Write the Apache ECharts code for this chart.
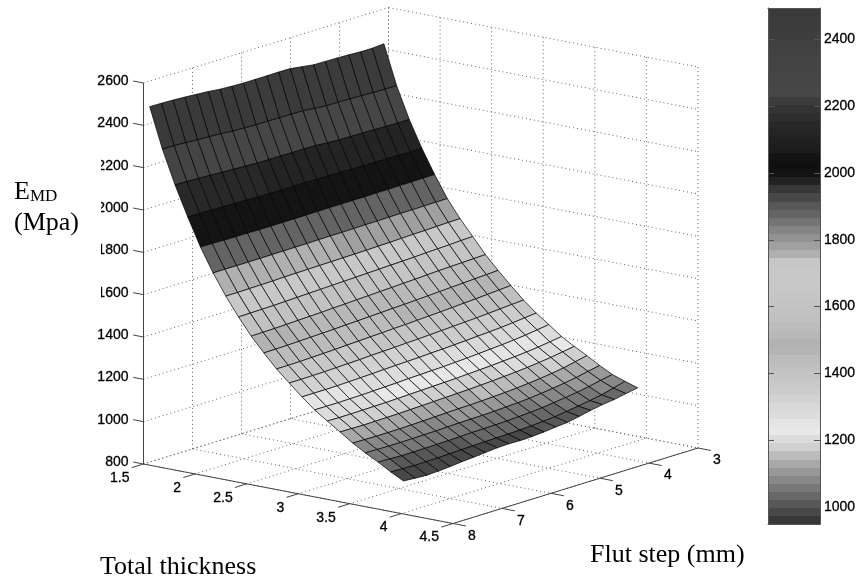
<!DOCTYPE html>
<html>
<head>
<meta charset="utf-8">
<style>html,body{margin:0;padding:0;background:#fff}#c{width:860px;height:582px}</style>
<script src="https://cdn.jsdelivr.net/npm/echarts@6/dist/echarts.min.js"></script>
</head>
<body>
<div id="c"></div>
<script>
// ---------- tick labels ----------
const thicknessTicks = [1.5, 2, 2.5, 3, 3.5, 4, 4.5];
const flutTicks = [3, 4, 5, 6, 7, 8];
const modulusTicks = [800, 1000, 1200, 1400, 1600, 1800, 2000, 2200, 2400, 2600];
const colorbarTicks = [1000, 1200, 1400, 1600, 1800, 2000, 2200, 2400];

// ---------- surface samples ----------
const thicknessValues = [1.56, 1.683, 1.806, 1.929, 2.052, 2.175, 2.298, 2.421, 2.544, 2.667, 2.79, 2.913, 3.036, 3.159, 3.282, 3.405, 3.528, 3.651, 3.774, 3.897, 4.02];
const flutValues = [8, 7.761, 7.522, 7.283, 7.044, 6.805, 6.566, 6.327, 6.088, 5.849, 5.61, 5.371, 5.132, 4.893, 4.654, 4.415, 4.176, 3.937, 3.698, 3.459, 3.22];
const modulusRows = [
[2494,2493,2491,2488,2484,2480,2474,2471,2469,2469,2469,2470,2469,2461,2453,2452,2451,2449,2446,2446,2450],
[2305,2304,2301,2298,2295,2292,2288,2285,2283,2283,2282,2282,2281,2276,2271,2270,2269,2267,2265,2264,2264],
[2147,2146,2144,2141,2138,2136,2133,2131,2130,2130,2129,2129,2128,2124,2121,2120,2119,2118,2116,2115,2115],
[2007,2006,2005,2004,2002,2001,1999,1998,1998,1998,1998,1998,1997,1995,1994,1993,1992,1992,1991,1990,1990],
[1877,1876,1875,1874,1874,1873,1873,1873,1873,1874,1874,1875,1875,1875,1875,1876,1876,1877,1877,1878,1878],
[1766,1766,1766,1766,1766,1767,1767,1768,1768,1769,1770,1770,1771,1772,1772,1773,1774,1774,1775,1776,1776],
[1668,1668,1669,1670,1671,1673,1674,1675,1676,1677,1678,1679,1680,1682,1683,1685,1687,1688,1690,1692,1693],
[1581,1582,1583,1584,1586,1588,1590,1592,1594,1596,1598,1600,1602,1604,1606,1608,1611,1613,1615,1618,1620],
[1502,1503,1504,1506,1508,1510,1512,1515,1517,1520,1522,1525,1527,1530,1532,1535,1538,1540,1542,1544,1546],
[1434,1435,1436,1438,1440,1442,1444,1447,1449,1452,1454,1457,1459,1462,1465,1468,1471,1474,1477,1480,1483],
[1370,1370,1371,1373,1375,1377,1380,1382,1385,1387,1390,1392,1395,1398,1401,1404,1408,1411,1415,1419,1423],
[1315,1315,1316,1317,1319,1321,1323,1326,1328,1330,1333,1335,1338,1341,1344,1347,1350,1354,1358,1362,1366],
[1261,1261,1261,1262,1264,1266,1268,1271,1273,1275,1277,1280,1282,1285,1288,1292,1295,1299,1304,1310,1316],
[1211,1211,1211,1212,1213,1215,1217,1219,1222,1224,1226,1228,1231,1234,1238,1242,1246,1251,1257,1265,1273],
[1170,1169,1169,1170,1171,1172,1174,1176,1178,1180,1182,1184,1187,1190,1193,1197,1201,1206,1212,1220,1228],
[1130,1129,1128,1129,1130,1131,1133,1135,1137,1139,1141,1143,1146,1149,1153,1157,1162,1168,1175,1184,1193],
[1089,1088,1087,1087,1088,1089,1091,1093,1095,1097,1098,1100,1103,1106,1110,1115,1121,1128,1137,1149,1161],
[1054,1053,1052,1052,1053,1054,1055,1057,1059,1060,1061,1063,1066,1069,1073,1079,1086,1094,1103,1115,1126],
[1022,1020,1018,1018,1019,1020,1021,1023,1025,1026,1027,1029,1032,1035,1040,1047,1054,1062,1072,1084,1095],
[987,985,983,984,985,987,989,991,993,994,995,997,1000,1004,1009,1017,1025,1034,1044,1059,1074],
[956,952,949,952,956,962,966,971,976,978,977,979,983,989,994,1005,1017,1027,1034,1045,1055]
];

// ---------- colormap, low to high ----------
const greyLevels = [
0x38,0x48,0x58,0x68,0x78,0x88,0x98,0xa8,0xbc,0xd0,0xdc,0xe8,0xe4,0xdc,0xd8,0xd2,
0xcc,0xc8,0xc4,0xc0,0xbc,0xb4,0xb2,0xb8,0xbc,0xc0,0xc2,0xc4,0xc6,0xc8,0xc8,0xc8,
0xc6,0xb0,0xa0,0x92,0x84,0x74,0x64,0x58,0x48,0x38,0x22,0x14,0x10,0x14,0x1c,0x20,
0x24,0x28,0x2e,0x34,0x3c,0x48,0x46,0x46,0x44,0x44,0x42,0x40,0x3e,0x3c,0x3c,0x3a
];

const Z_MIN = 949, Z_MAX = 2494;
const T0 = thicknessTicks[0], T1 = thicknessTicks[thicknessTicks.length - 1];
const F0 = flutTicks[0], F1 = flutTicks[flutTicks.length - 1];
const M0 = modulusTicks[0], M1 = modulusTicks[modulusTicks.length - 1];

// Orthographic view: scene coordinates -> plane of the hidden projection axes.
function project(t, f, z) {
  return [
    143.5 + (t - T0) / (T1 - T0) * 309.5 + (F1 - f) / (F1 - F0) * 245,
    464 + (t - T0) / (T1 - T0) * 59.5 - (F1 - f) / (F1 - F0) * 75.5 - (z - M0) / (M1 - M0) * 381
  ];
}
function grey(z) {
  const n = greyLevels.length;
  const k = Math.max(0, Math.min(n - 1, Math.floor((z - Z_MIN) / (Z_MAX - Z_MIN) * n)));
  const g = greyLevels[k];
  return 'rgb(' + g + ',' + g + ',' + g + ')';
}
const AXIS_COLOR = '#444';
const SANS = '14px "Liberation Sans", Arial, sans-serif';
const SERIF = '"Liberation Serif", "Times New Roman", serif';

// ---------- dotted box grid ----------
const gridSegments = [];
modulusTicks.forEach(z => {
  gridSegments.push([T0, F1, z, T0, F0, z]);
  gridSegments.push([T0, F0, z, T1, F0, z]);
});
flutTicks.forEach(f => {
  gridSegments.push([T0, f, M0, T0, f, M1]);
  gridSegments.push([T0, f, M0, T1, f, M0]);
});
thicknessTicks.forEach(t => {
  gridSegments.push([t, F0, M0, t, F0, M1]);
  gridSegments.push([t, F0, M0, t, F1, M0]);
});

// ---------- solid axes and ticks ----------
const axisSegments = [
  [T0, F1, M0, T0, F1, M1],
  [T0, F1, M0, T1, F1, M0],
  [T1, F1, M0, T1, F0, M0]
];
modulusTicks.forEach(z => axisSegments.push([T0, F1, z, T0 - 0.1, F1, z]));
thicknessTicks.forEach(t => axisSegments.push([t, F1, M0, t, F1 + 0.24, M0]));
flutTicks.forEach(f => axisSegments.push([T1, f, M0, T1 + 0.125, f, M0]));

function segmentItem(api, dash) {
  const a = api.coord(project(api.value(0), api.value(1), api.value(2)));
  const b = api.coord(project(api.value(3), api.value(4), api.value(5)));
  return {
    type: 'line',
    shape: { x1: a[0], y1: a[1], x2: b[0], y2: b[1] },
    style: dash
      ? { stroke: '#666', lineWidth: 1, lineDash: [1, 3], fill: null }
      : { stroke: AXIS_COLOR, lineWidth: 1, fill: null },
    silent: true
  };
}

// ---------- surface cells, far to near ----------
const cells = [];
for (let i = 0; i < modulusRows.length - 1; i++) {
  for (let k = flutValues.length - 2; k >= 0; k--) cells.push([i, k]);
}
function cellItem(params, api) {
  const i = api.value(0), k = api.value(1);
  const corner = (a, b) => api.coord(project(thicknessValues[a], flutValues[b], modulusRows[a][b]));
  return {
    type: 'polygon',
    shape: { points: [corner(i, k), corner(i, k + 1), corner(i + 1, k + 1), corner(i + 1, k)] },
    style: { fill: grey(modulusRows[i][k]), stroke: '#000', lineWidth: 0.7 },
    silent: true
  };
}

// ---------- tick label series ----------
function tickLabelSeries(values, place, align, z) {
  return {
    type: 'custom', coordinateSystem: 'cartesian2d', xAxisIndex: 0, yAxisIndex: 0, z: z || 6,
    data: values.map(v => [v, 0]),
    renderItem(params, api) {
      const v = api.value(0);
      const p = place(v, api);
      return {
        type: 'text',
        style: { x: p[0], y: p[1], text: String(v), font: SANS, fill: '#000', stroke: '#000', lineWidth: 0.3, align: align, verticalAlign: 'middle' },
        silent: true
      };
    }
  };
}

const chart = echarts.init(document.getElementById('c'), null, { renderer: 'canvas' });
chart.setOption({
  animation: false,
  backgroundColor: '#fff',
  grid: [
    { left: 0, top: 0, width: 860, height: 582, show: false },
    { left: 768, top: 8, width: 52, height: 516, show: false }
  ],
  xAxis: [
    { type: 'value', gridIndex: 0, min: 0, max: 860, show: false },
    {
      type: 'value', gridIndex: 1, min: 0, max: 1, position: 'bottom', z: 5,
      axisLine: { show: true, onZero: false, lineStyle: { color: '#555' } },
      axisTick: { show: false }, axisLabel: { show: false }, splitLine: { show: false }
    },
    {
      type: 'value', gridIndex: 1, min: 0, max: 1, position: 'top', z: 5,
      axisLine: { show: true, onZero: false, lineStyle: { color: '#555' } },
      axisTick: { show: false }, axisLabel: { show: false }, splitLine: { show: false }
    }
  ],
  yAxis: [
    { type: 'value', gridIndex: 0, min: 0, max: 582, inverse: true, show: false },
    {
      type: 'value', gridIndex: 1, min: Z_MIN, max: Z_MAX, position: 'left', z: 5,
      axisLine: { show: true, onZero: false, lineStyle: { color: '#555' } },
      axisTick: { show: true, inside: true, length: 6, customValues: colorbarTicks, lineStyle: { color: '#555' } },
      axisLabel: { show: false, customValues: colorbarTicks }, splitLine: { show: false }
    },
    {
      type: 'value', gridIndex: 1, min: Z_MIN, max: Z_MAX, position: 'right', z: 5,
      axisLine: { show: true, onZero: false, lineStyle: { color: '#555' } },
      axisTick: { show: true, inside: true, length: 6, customValues: colorbarTicks, lineStyle: { color: '#555' } },
      axisLabel: {
        show: true, inside: false, margin: 4, customValues: colorbarTicks, color: '#000',
        textBorderColor: '#000', textBorderWidth: 0.3,
        fontSize: 14, fontFamily: '"Liberation Sans", Arial, sans-serif',
        showMinLabel: true, showMaxLabel: true, hideOverlap: false, formatter: v => String(v)
      },
      splitLine: { show: false }
    }
  ],
  series: [
    {
      type: 'custom', coordinateSystem: 'cartesian2d', xAxisIndex: 0, yAxisIndex: 0, z: 2,
      data: gridSegments,
      renderItem: (params, api) => segmentItem(api, true)
    },
    {
      type: 'custom', coordinateSystem: 'cartesian2d', xAxisIndex: 0, yAxisIndex: 0, z: 3,
      data: axisSegments,
      renderItem: (params, api) => segmentItem(api, false)
    },
    {
      type: 'custom', coordinateSystem: 'cartesian2d', xAxisIndex: 0, yAxisIndex: 0, z: 4,
      data: cells,
      renderItem: cellItem
    },
    tickLabelSeries(modulusTicks, (v, api) => {
      const p = api.coord(project(T0, F1, v));
      return [p[0] - 15, p[1] - 2];
    }, 'right'),
    tickLabelSeries(thicknessTicks, (v, api) => {
      const p = api.coord(project(v, F1, M0));
      return [p[0] - 14, p[1] + 14];
    }, 'right'),
    tickLabelSeries(flutTicks, (v, api) => {
      const p = api.coord(project(T1, v, M0));
      return [p[0] + 19, p[1] + 12.5];
    }, 'center'),
    {
      type: 'custom', coordinateSystem: 'cartesian2d', xAxisIndex: 1, yAxisIndex: 1, z: 2,
      data: greyLevels.map((g, k) => [k, g]),
      renderItem(params, api) {
        const k = api.value(0), g = api.value(1), n = greyLevels.length;
        const lo = Z_MIN + (Z_MAX - Z_MIN) * k / n, hi = Z_MIN + (Z_MAX - Z_MIN) * (k + 1) / n;
        const a = api.coord([0, hi]), b = api.coord([1, lo]);
        const top = Math.round(a[1]), bottom = Math.round(b[1]);
        return {
          type: 'rect',
          shape: { x: a[0], y: top, width: b[0] - a[0], height: bottom - top },
          style: { fill: 'rgb(' + g + ',' + g + ',' + g + ')', stroke: null },
          silent: true
        };
      }
    }
  ],
  graphic: [
    { type: 'rect', z: 50, silent: true, shape: { x: 0, y: 150, width: 101, height: 155 }, style: { fill: '#fff' } },
    {
      type: 'text', z: 51, silent: true, x: 14, y: 192,
      style: {
        text: '{e|E}{s|MD}', verticalAlign: 'middle', fill: '#000',
        rich: {
          e: { fontSize: 26, fontFamily: SERIF, fill: '#000', verticalAlign: 'bottom' },
          s: { fontSize: 17, fontFamily: SERIF, fill: '#000', verticalAlign: 'bottom', padding: [4, 0, 0, 0] }
        }
      }
    },
    { type: 'text', z: 51, silent: true, x: 14, y: 223, style: { text: '(Mpa)', font: '26px ' + SERIF, fill: '#000', verticalAlign: 'middle' } },
    { type: 'text', z: 51, silent: true, x: 100, y: 567, style: { text: 'Total thickness', font: '26px ' + SERIF, fill: '#000', verticalAlign: 'middle' } },
    { type: 'text', z: 51, silent: true, x: 590, y: 555, style: { text: 'Flut step (mm)', font: '26px ' + SERIF, fill: '#000', verticalAlign: 'middle' } }
  ]
});
</script>
</body>
</html>
